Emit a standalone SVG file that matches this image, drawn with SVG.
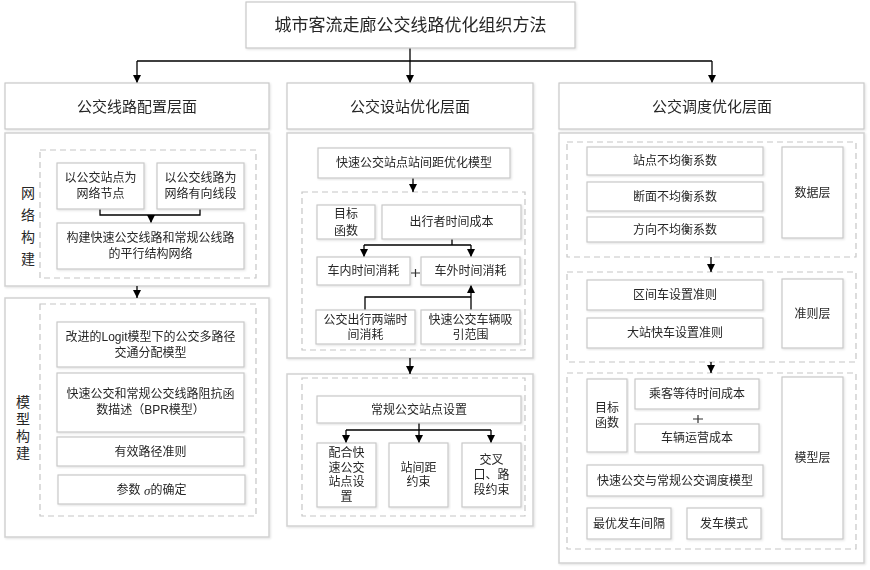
<svg xmlns="http://www.w3.org/2000/svg" width="870" height="570" viewBox="0 0 870 570">
<style>
.bg{fill:#fff}
.box{fill:#fff;stroke:#c9c9c9;stroke-width:1.2}
.panel{fill:#fff;stroke:#d2d2d2;stroke-width:1.5}
.dash{fill:none;stroke:#c6c6c6;stroke-width:1.2;stroke-dasharray:6 4}
.t{font-family:"Liberation Sans","Noto Sans CJK SC",sans-serif;font-size:12px;fill:#262626;text-anchor:middle;dominant-baseline:central}
.h{font-size:15px}
.title{font-size:17px}
.v{font-size:14px}
.conn{stroke:#000;stroke-width:1.3;fill:none}
.plus{stroke:#333;stroke-width:1.2;fill:none}
</style>
<defs>
<marker id="arr" markerWidth="8" markerHeight="8" refX="8" refY="4" orient="auto" markerUnits="userSpaceOnUse">
<path d="M0,0 L8,4 L0,8 z" fill="#000"/>
</marker>
<filter id="sh" x="-5%" y="-5%" width="110%" height="115%">
<feDropShadow dx="1" dy="1" stdDeviation="0.8" flood-color="#000" flood-opacity="0.12"/>
</filter>
</defs>
<rect class="bg" x="0" y="0" width="870" height="570"/>

<!-- panels -->
<g id="panels" filter="url(#sh)">
<rect class="panel" x="5" y="133" width="264" height="153"/>
<rect class="panel" x="5" y="298" width="264" height="239"/>
<rect class="panel" x="287" y="133" width="246" height="225"/>
<rect class="panel" x="287" y="374" width="246" height="152"/>
<rect class="panel" x="559" y="133" width="305" height="430"/>
</g>
<g id="dashed-groups">
<rect class="dash" x="40" y="150" width="216" height="128"/>
<rect class="dash" x="40" y="304" width="216" height="212"/>
<rect class="dash" x="302" y="192" width="223" height="158"/>
<rect class="dash" x="302" y="378" width="223" height="138"/>
<rect class="dash" x="567" y="142" width="289" height="115"/>
<rect class="dash" x="567" y="272" width="289" height="90"/>
<rect class="dash" x="567" y="373" width="289" height="176"/>
</g>

<!-- connectors -->
<g id="connectors">
<path class="conn" d="M410,48 V61 M137,61 H712"/>
<path class="conn" d="M137,61 V83" marker-end="url(#arr)"/>
<path class="conn" d="M410,61 V83" marker-end="url(#arr)"/>
<path class="conn" d="M712,61 V83" marker-end="url(#arr)"/>
<path class="conn" d="M100,209 V215 H200 V209"/>
<path class="conn" d="M151,215 V223" marker-end="url(#arr)"/>
<path class="conn" d="M137,286 V298" marker-end="url(#arr)"/>
<path class="conn" d="M413,178 V192" marker-end="url(#arr)"/>
<path class="conn" d="M452,239 V245 M364,245 H471"/>
<path class="conn" d="M364,245 V257" marker-end="url(#arr)"/>
<path class="conn" d="M471,245 V257" marker-end="url(#arr)"/>
<path class="conn" d="M365,310 V297 H471"/>
<path class="conn" d="M471,310 V285" marker-end="url(#arr)"/>
<path class="conn" d="M410,358 V374" marker-end="url(#arr)"/>
<path class="conn" d="M419,423 V430 M346,430 H491"/>
<path class="conn" d="M346,430 V443" marker-end="url(#arr)"/>
<path class="conn" d="M419,430 V443" marker-end="url(#arr)"/>
<path class="conn" d="M491,430 V443" marker-end="url(#arr)"/>
<path class="conn" d="M711,257 V272" marker-end="url(#arr)"/>
<path class="conn" d="M711,362 V373" marker-end="url(#arr)"/>
</g>

<!-- title -->
<g id="title" filter="url(#sh)">
<rect class="box" x="246" y="2" width="329" height="46"/>
<text class="t title" x="410.5" y="25">城市客流走廊公交线路优化组织方法</text>
</g>

<!-- headers -->
<g id="h1" filter="url(#sh)"><rect class="box" x="5" y="83" width="264" height="46"/><text class="t h" x="137" y="106">公交线路配置层面</text></g>
<g id="h2" filter="url(#sh)"><rect class="box" x="287" y="83" width="246" height="46"/><text class="t h" x="410" y="106">公交设站优化层面</text></g>
<g id="h3" filter="url(#sh)"><rect class="box" x="559" y="83" width="305" height="46"/><text class="t h" x="712" y="106">公交调度优化层面</text></g>

<!-- column 1 -->
<g id="lbl-network">
<text class="t v" x="28" y="193">网</text><text class="t v" x="28" y="215">络</text><text class="t v" x="28" y="237">构</text><text class="t v" x="28" y="259">建</text>
</g>
<g id="n-node" filter="url(#sh)"><rect class="box" x="57" y="163" width="87" height="46"/><text class="t" x="100.5" y="178">以公交站点为</text><text class="t" x="100.5" y="194">网络节点</text></g>
<g id="n-link" filter="url(#sh)"><rect class="box" x="157" y="163" width="87" height="46"/><text class="t" x="200.5" y="178">以公交线路为</text><text class="t" x="200.5" y="194">网络有向线段</text></g>
<g id="n-build" filter="url(#sh)"><rect class="box" x="57" y="223" width="187" height="46"/><text class="t" x="150.5" y="238">构建快速公交线路和常规公线路</text><text class="t" x="150.5" y="254">的平行结构网络</text></g>

<g id="lbl-model">
<text class="t v" x="23" y="402">模</text><text class="t v" x="23" y="419">型</text><text class="t v" x="23" y="436">构</text><text class="t v" x="23" y="453">建</text>
</g>
<g id="n-logit" filter="url(#sh)"><rect class="box" x="57" y="322" width="187" height="45"/><text class="t" x="150.5" y="337">改进的Logit模型下的公交多路径</text><text class="t" x="150.5" y="353">交通分配模型</text></g>
<g id="n-bpr" filter="url(#sh)"><rect class="box" x="57" y="373" width="187" height="59"/><text class="t" x="150.5" y="394">快速公交和常规公交线路阻抗函</text><text class="t" x="150.5" y="410">数描述（BPR模型）</text></g>
<g id="n-path" filter="url(#sh)"><rect class="box" x="57" y="437" width="187" height="29"/><text class="t" x="150.5" y="452">有效路径准则</text></g>
<g id="n-sigma" filter="url(#sh)"><rect class="box" x="58" y="475" width="187" height="29"/><text class="t" x="151.5" y="490">参数 <tspan font-family="Liberation Serif,serif" font-style="italic" font-size="13">σ</tspan>的确定</text></g>

<!-- column 2 -->
<g id="s-model" filter="url(#sh)"><rect class="box" x="318" y="148" width="192" height="30"/><text class="t" x="414" y="163">快速公交站点站间距优化模型</text></g>
<g id="s-obj" filter="url(#sh)"><rect class="box" x="317" y="205" width="58" height="34"/><text class="t" x="346" y="213.5">目标</text><text class="t" x="346" y="230.5">函数</text></g>
<g id="s-cost" filter="url(#sh)"><rect class="box" x="382" y="205" width="139" height="34"/><text class="t" x="451.5" y="222">出行者时间成本</text></g>
<g id="s-in" filter="url(#sh)"><rect class="box" x="317" y="257" width="93" height="28"/><text class="t" x="363.5" y="271">车内时间消耗</text></g>
<g id="s-plus1"><path class="plus" d="M411,273 H420 M415.5,269 V277"/></g>
<g id="s-out" filter="url(#sh)"><rect class="box" x="421" y="257" width="99" height="28"/><text class="t" x="470.5" y="271">车外时间消耗</text></g>
<g id="s-ends" filter="url(#sh)"><rect class="box" x="316" y="310" width="99" height="34"/><text class="t" x="365.5" y="320">公交出行两端时</text><text class="t" x="365.5" y="335">间消耗</text></g>
<g id="s-range" filter="url(#sh)"><rect class="box" x="421" y="310" width="99" height="34"/><text class="t" x="470.5" y="320">快速公交车辆吸</text><text class="t" x="470.5" y="335">引范围</text></g>

<g id="s-regular" filter="url(#sh)"><rect class="box" x="317" y="396" width="204" height="27"/><text class="t" x="419" y="409.5">常规公交站点设置</text></g>
<g id="s-coop" filter="url(#sh)"><rect class="box" x="317" y="443" width="59" height="64"/><text class="t" x="346.5" y="453">配合快</text><text class="t" x="346.5" y="467.5">速公交</text><text class="t" x="346.5" y="482">站点设</text><text class="t" x="346.5" y="496.5">置</text></g>
<g id="s-spacing" filter="url(#sh)"><rect class="box" x="389" y="443" width="59" height="64"/><text class="t" x="418.5" y="467.5">站间距</text><text class="t" x="418.5" y="482">约束</text></g>
<g id="s-cross" filter="url(#sh)"><rect class="box" x="462" y="443" width="59" height="64"/><text class="t" x="491.5" y="460">交叉</text><text class="t" x="491.5" y="475">口、路</text><text class="t" x="491.5" y="490">段约束</text></g>

<!-- column 3 -->
<g id="d-station" filter="url(#sh)"><rect class="box" x="587" y="147" width="176" height="28"/><text class="t" x="675" y="161">站点不均衡系数</text></g>
<g id="d-section" filter="url(#sh)"><rect class="box" x="587" y="182" width="176" height="29"/><text class="t" x="675" y="196.5">断面不均衡系数</text></g>
<g id="d-direction" filter="url(#sh)"><rect class="box" x="587" y="217" width="176" height="25"/><text class="t" x="675" y="229.5">方向不均衡系数</text></g>
<g id="d-layer" filter="url(#sh)"><rect class="box" x="782" y="147" width="61" height="91"/><text class="t" x="812.5" y="193">数据层</text></g>

<g id="c-zone" filter="url(#sh)"><rect class="box" x="587" y="280" width="176" height="30"/><text class="t" x="675" y="295">区间车设置准则</text></g>
<g id="c-express" filter="url(#sh)"><rect class="box" x="587" y="318" width="176" height="30"/><text class="t" x="675" y="333">大站快车设置准则</text></g>
<g id="c-layer" filter="url(#sh)"><rect class="box" x="782" y="279" width="61" height="69"/><text class="t" x="812.5" y="313.5">准则层</text></g>

<g id="m-obj" filter="url(#sh)"><rect class="box" x="587" y="379" width="40" height="73"/><text class="t" x="607" y="408">目标</text><text class="t" x="607" y="423">函数</text></g>
<g id="m-wait" filter="url(#sh)"><rect class="box" x="635" y="379" width="124" height="30"/><text class="t" x="697" y="394">乘客等待时间成本</text></g>
<g id="m-plus"><path class="plus" d="M693,419 H703 M698,415 V423"/></g>
<g id="m-oper" filter="url(#sh)"><rect class="box" x="635" y="424" width="124" height="28"/><text class="t" x="697" y="438">车辆运营成本</text></g>
<g id="m-sched" filter="url(#sh)"><rect class="box" x="587" y="465" width="176" height="31"/><text class="t" x="675" y="480.5">快速公交与常规公交调度模型</text></g>
<g id="m-headway" filter="url(#sh)"><rect class="box" x="587" y="508" width="84" height="31"/><text class="t" x="629" y="523.5">最优发车间隔</text></g>
<g id="m-mode" filter="url(#sh)"><rect class="box" x="687" y="508" width="74" height="31"/><text class="t" x="724" y="523.5">发车模式</text></g>
<g id="m-layer" filter="url(#sh)"><rect class="box" x="782" y="377" width="61" height="162"/><text class="t" x="812.5" y="458">模型层</text></g>
</svg>
